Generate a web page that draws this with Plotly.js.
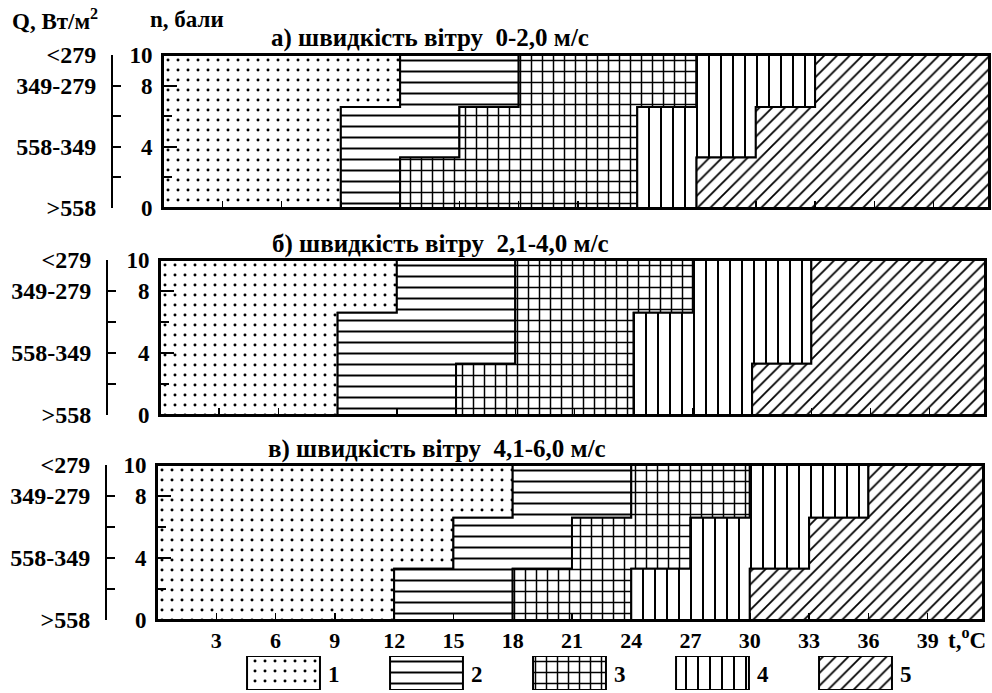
<!DOCTYPE html>
<html><head><meta charset="utf-8">
<script src="https://cdn.plot.ly/plotly-3.0.1.min.js"></script>
<style>body{margin:0;background:#fff}#chart{width:992px;height:693px}</style>
</head><body><div id="chart"></div>
<script>
// ---------- data ----------
const xTicks = [3, 6, 9, 12, 15, 18, 21, 24, 27, 30, 33, 36, 39];
const xMax = 41.8;
const rowEdges = [0, 3.3, 6.6, 10];           // n, бали: bottom / middle / top rows
const nTicks = [0, 4, 8, 10];
const nTickText = ['0', '4', '8', '10'];
const nMinorTicks = [2, 6];
const qTicks = [0, 4, 8, 10];
const qTickText = ['>558', '558-349', '349-279', '<279'];
const zoneNames = ['1', '2', '3', '4', '5'];
const zonePatterns = ['.', '-', '+', '|', '/'];
const panelTitles = ['а) швидкість вітру  0-2,0 м/с', 'б) швидкість вітру  2,1-4,0 м/с', 'в) швидкість вітру  4,1-6,0 м/с'];

// zone borders (t, °C) between zones 1|2, 2|3, 3|4, 4|5 for each row
const panelA_bottom = [9, 12, 24, 27];
const panelA_middle = [9, 15, 24, 30];
const panelA_top    = [12, 18, 27, 33];
const panelB_bottom = [9, 15, 24, 30];
const panelB_middle = [9, 18, 24, 33];
const panelB_top    = [12, 18, 27, 33];
const panelC_bottom = [12, 18, 24, 30];
const panelC_middle = [15, 21, 27, 33];
const panelC_top    = [18, 24, 30, 36];

// ---------- styles / layout ----------
const W = 992, H = 693;
const FONT = 'Liberation Serif, Times New Roman, serif';
const patSize = [10, 11, 11, 12, 9];
const patSolid = [0.07, 0.18, 0.25, 0.17, 0.2];
const boxes = [
  {l: 163, r: 989, t: 55, b: 208, br: 112, ty: 38, tx: 430},
  {l: 160, r: 985, t: 260, b: 415, br: 107, ty: 244, tx: 440},
  {l: 157, r: 983, t: 465, b: 620, br: 106, ty: 449, tx: 437}
];
const panels = [
  [panelA_bottom, panelA_middle, panelA_top],
  [panelB_bottom, panelB_middle, panelB_top],
  [panelC_bottom, panelC_middle, panelC_top]
];

function zonePolygon(rows, k) {
  const L = rows.map(r => k === 0 ? 0 : r[k - 1]);
  const R = rows.map(r => k === 4 ? xMax : r[k]);
  const e = rowEdges;
  return {
    x: [L[0], R[0], R[0], R[1], R[1], R[2], R[2], L[2], L[2], L[1], L[1], L[0], L[0]],
    y: [e[0], e[0], e[1], e[1], e[2], e[2], e[3], e[3], e[2], e[2], e[1], e[1], e[0]]
  };
}

const traces = [];
const layout = {
  width: W, height: H, margin: {l: 0, r: 0, t: 0, b: 0},
  paper_bgcolor: 'white', plot_bgcolor: 'white', showlegend: false,
  font: {family: FONT, size: 20, color: 'black', weight: 'bold'},
  annotations: [], hovermode: false
};

panels.forEach((rows, p) => {
  const xa = p === 0 ? 'x' : 'x' + (p + 1);
  const ya = p === 0 ? 'y' : 'y' + (p + 1);
  const yb = 'y' + (p + 4);
  const bx = boxes[p];
  for (let k = 0; k < 5; k++) {
    const poly = zonePolygon(rows, k);
    traces.push({
      type: 'scatter', mode: 'lines', x: poly.x, y: poly.y, xaxis: xa, yaxis: ya,
      fill: 'toself', fillcolor: 'white',
      fillpattern: {shape: zonePatterns[k], size: patSize[k], solidity: patSolid[k], fgcolor: 'black', bgcolor: 'white', fillmode: 'replace'},
      line: {color: 'black', width: 2}, hoverinfo: 'skip', name: zoneNames[k]
    });
  }
  traces.push({type: 'scatter', mode: 'none', x: [0], y: [0], xaxis: xa, yaxis: yb, hoverinfo: 'skip'});
  const dom = [1 - bx.b / H, 1 - bx.t / H];
  const xKey = p === 0 ? 'xaxis' : 'xaxis' + (p + 1);
  const yKey = p === 0 ? 'yaxis' : 'yaxis' + (p + 1);
  layout[xKey] = {
    domain: [bx.l / W, bx.r / W], range: [0, xMax], anchor: ya,
    tickvals: xTicks, ticks: 'inside', ticklen: 7, tickwidth: 1.5, tickcolor: 'black',
    showticklabels: p === 2, tickfont: {family: FONT, size: 22, weight: 'bold'},
    showline: true, linewidth: 2, linecolor: 'black', mirror: true,
    showgrid: false, zeroline: false, fixedrange: true
  };
  layout[yKey] = {
    domain: dom, range: [0, 10], anchor: xa,
    tickvals: nTicks, ticktext: nTickText, ticks: 'inside', ticklen: 14, tickwidth: 2, tickcolor: 'black',
    minor: {tickvals: nMinorTicks, ticks: 'inside', ticklen: 9, tickwidth: 2, tickcolor: 'black', showgrid: false},
    tickfont: {family: FONT, size: 23, weight: 'bold'}, ticklabelstandoff: 4,
    showline: true, linewidth: 2, linecolor: 'black', mirror: true,
    showgrid: false, zeroline: false, fixedrange: true
  };
  layout['yaxis' + (p + 4)] = {
    overlaying: ya, anchor: 'free', position: bx.br / W, side: 'left', range: [0, 10],
    tickvals: qTicks, ticktext: qTickText, ticks: 'inside', ticklen: 8, tickwidth: 2, tickcolor: 'black',
    minor: {tickvals: nMinorTicks, ticks: 'inside', ticklen: 8, tickwidth: 2, tickcolor: 'black', showgrid: false},
    tickfont: {family: FONT, size: 24, weight: 'bold'}, ticklabelstandoff: 10,
    showline: true, linewidth: 2, linecolor: 'black',
    showgrid: false, zeroline: false, fixedrange: true
  };
  layout.annotations.push({
    text: panelTitles[p], xref: 'paper', yref: 'paper', x: bx.tx / W, y: 1 - bx.ty / H,
    xanchor: 'center', yanchor: 'middle', showarrow: false,
    font: {family: FONT, size: 25, weight: 'bold', color: 'black'}
  });
});

// legend boxes
traces.push({
  type: 'bar', x: [0, 1, 2, 3, 4], y: [1, 1, 1, 1, 1], width: 0.51, xaxis: 'x4', yaxis: 'y7',
  marker: {color: 'white', line: {color: 'black', width: 2},
    pattern: {shape: zonePatterns, size: patSize, solidity: patSolid, fgcolor: 'black', bgcolor: 'white', fillmode: 'replace'}},
  hoverinfo: 'skip'
});
layout.xaxis4 = {domain: [200 / W, 960 / W], range: [(200 - 283.5) / 143, (960 - 283.5) / 143], anchor: 'y7', visible: false, fixedrange: true};
layout.yaxis7 = {domain: [1 - 690 / H, 1 - 656 / H], range: [0, 1], anchor: 'x4', visible: false, fixedrange: true};
zoneNames.forEach((nm, k) => layout.annotations.push({
  text: nm, xref: 'x4', yref: 'y7', x: k + 0.35, y: 0.45, xanchor: 'center', yanchor: 'middle', showarrow: false,
  font: {family: FONT, size: 23, weight: 'bold', color: 'black'}
}));

// headers and axis unit
layout.annotations.push(
  {text: 'Q, Вт/м<sup>2</sup>', xref: 'paper', yref: 'paper', x: 10 / W, y: 1 - 20 / H, xanchor: 'left', yanchor: 'middle', showarrow: false, font: {family: FONT, size: 23, weight: 'bold'}},
  {text: 'n, бали', xref: 'paper', yref: 'paper', x: 148 / W, y: 1 - 20 / H, xanchor: 'left', yanchor: 'middle', showarrow: false, font: {family: FONT, size: 23, weight: 'bold'}},
  {text: 't,<sup>o</sup>C', xref: 'paper', yref: 'paper', x: 946 / W, y: 1 - 638 / H, xanchor: 'left', yanchor: 'middle', showarrow: false, font: {family: FONT, size: 23, weight: 'bold'}}
);

Plotly.newPlot('chart', traces, layout, {displayModeBar: false, staticPlot: true});
</script></body></html>
